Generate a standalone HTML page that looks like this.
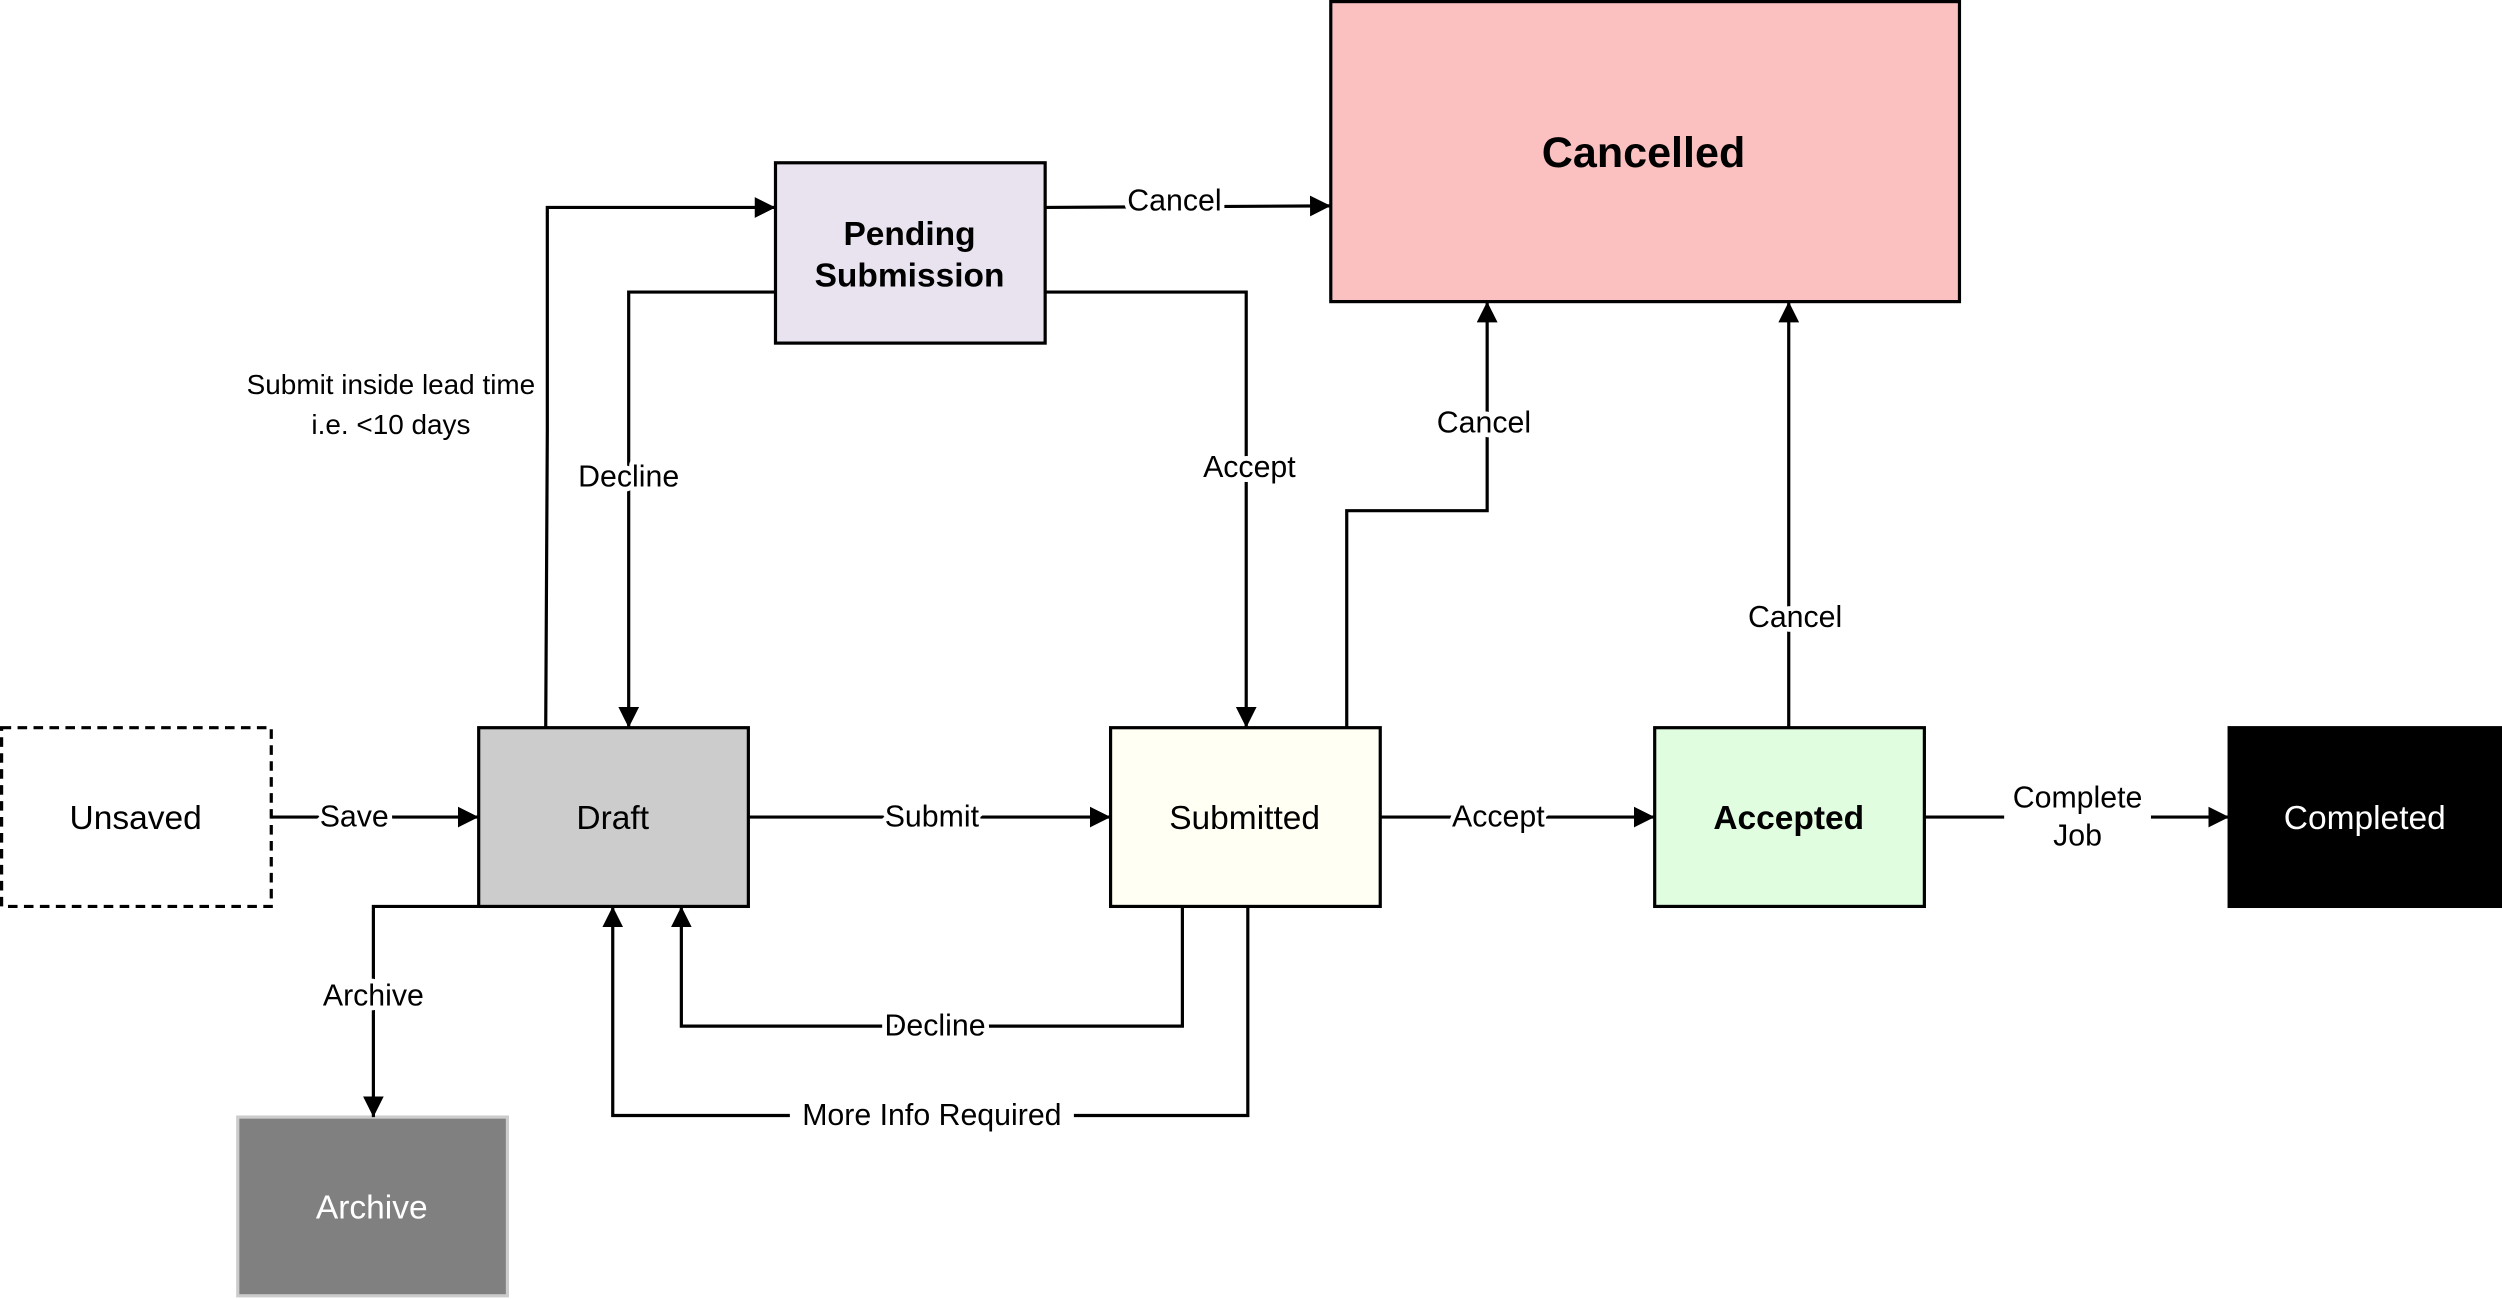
<!DOCTYPE html>
<html><head><meta charset="utf-8"><style>
html,body{margin:0;padding:0;background:#fff;width:2502px;height:1299px;overflow:hidden}
svg{display:block}
text{font-family:"Liberation Sans",Arial,sans-serif;fill:#000}
.lbl{font-size:19px;paint-order:stroke;stroke:#fff;stroke-width:6px;stroke-linejoin:round;text-anchor:middle;dominant-baseline:central}
.pl{font-size:19px;text-anchor:middle;dominant-baseline:central}
.node{font-size:21px;text-anchor:middle;dominant-baseline:central}
.e{fill:none;stroke:#000;stroke-width:2}
</style></head><body>
<svg width="2502" height="1299" viewBox="0 0 1568 814" preserveAspectRatio="none">
<defs><marker id="a" viewBox="0 0 13 13" refX="13" refY="6.5" markerWidth="13" markerHeight="13" markerUnits="userSpaceOnUse" orient="auto"><path d="M0,0 L13,6.5 L0,13 z" fill="#000"/></marker></defs>
<!-- nodes -->
<rect x="1" y="456" width="169" height="112" fill="#fff" stroke="#000" stroke-width="2" stroke-dasharray="6,4"/>
<text class="node" x="85" y="513">Unsaved</text>
<rect x="300" y="456" width="169" height="112" fill="#cccccc" stroke="#000" stroke-width="2"/>
<text class="node" x="384" y="513">Draft</text>
<rect x="696" y="456" width="169" height="112" fill="#fffff4" stroke="#000" stroke-width="2"/>
<text class="node" x="780" y="513">Submitted</text>
<rect x="1037" y="456" width="169" height="112" fill="#e0fde0" stroke="#000" stroke-width="2"/>
<text class="node" x="1121" y="513" font-weight="bold">Accepted</text>
<rect x="1397" y="456" width="171" height="112" fill="#000" stroke="#000" stroke-width="2"/>
<text class="node" x="1482" y="513" style="fill:#fff">Completed</text>
<rect x="149" y="700" width="169" height="112" fill="#808080" stroke="#cccccc" stroke-width="2"/>
<text class="node" x="233" y="757" style="fill:#fff">Archive</text>
<rect x="486" y="102" width="169" height="113" fill="#e8e3ef" stroke="#000" stroke-width="2"/>
<text class="node" x="570" y="147" font-weight="bold">Pending</text>
<text class="node" x="570" y="173" font-weight="bold">Submission</text>
<rect x="834" y="1" width="394" height="188" fill="#fbc1c1" stroke="#000" stroke-width="2"/>
<text class="node" x="1030" y="96" font-weight="bold" style="font-size:27px">Cancelled</text>
<!-- edges -->
<path class="e" d="M170,512 H300" marker-end="url(#a)"/>
<path class="e" d="M469,512 H696" marker-end="url(#a)"/>
<path class="e" d="M865,512 H1037" marker-end="url(#a)"/>
<path class="e" d="M1206,512 H1397" marker-end="url(#a)"/>
<path class="e" d="M300,568 H234 V700" marker-end="url(#a)"/>
<path class="e" d="M741,568 V643 H427 V568" marker-end="url(#a)"/>
<path class="e" d="M782,568 V699 H384 V568" marker-end="url(#a)"/>
<path class="e" d="M342,456 L343,270 V130 H486" marker-end="url(#a)"/>
<path class="e" d="M486,183 H394 V456" marker-end="url(#a)"/>
<path class="e" d="M655,183 H781 V456" marker-end="url(#a)"/>
<path class="e" d="M655,130 L834,129" marker-end="url(#a)"/>
<path class="e" d="M844,456 V320 H932 V189" marker-end="url(#a)"/>
<path class="e" d="M1121,456 V189" marker-end="url(#a)"/>
<!-- labels -->
<text class="lbl" x="222" y="512">Save</text>
<text class="lbl" x="584" y="512">Submit</text>
<text class="lbl" x="939" y="512">Accept</text>
<rect x="1256" y="489" width="92" height="46" fill="#fff"/>
<text class="pl" x="1302" y="500">Complete</text>
<text class="pl" x="1302" y="524">Job</text>
<text class="lbl" x="234" y="624">Archive</text>
<text class="lbl" x="586" y="643">Decline</text>
<rect x="495" y="688" width="178" height="22" fill="#fff"/>
<text class="pl" x="584" y="699">More Info Required</text>
<text class="lbl" x="245" y="241" style="font-size:17.5px">Submit inside lead time</text>
<text class="lbl" x="245" y="266" style="font-size:17.5px">i.e. &lt;10 days</text>
<text class="lbl" x="394" y="299">Decline</text>
<text class="lbl" x="783" y="293">Accept</text>
<text class="lbl" x="736" y="126">Cancel</text>
<text class="lbl" x="930" y="265">Cancel</text>
<text class="lbl" x="1125" y="387">Cancel</text>
</svg>
</body></html>
